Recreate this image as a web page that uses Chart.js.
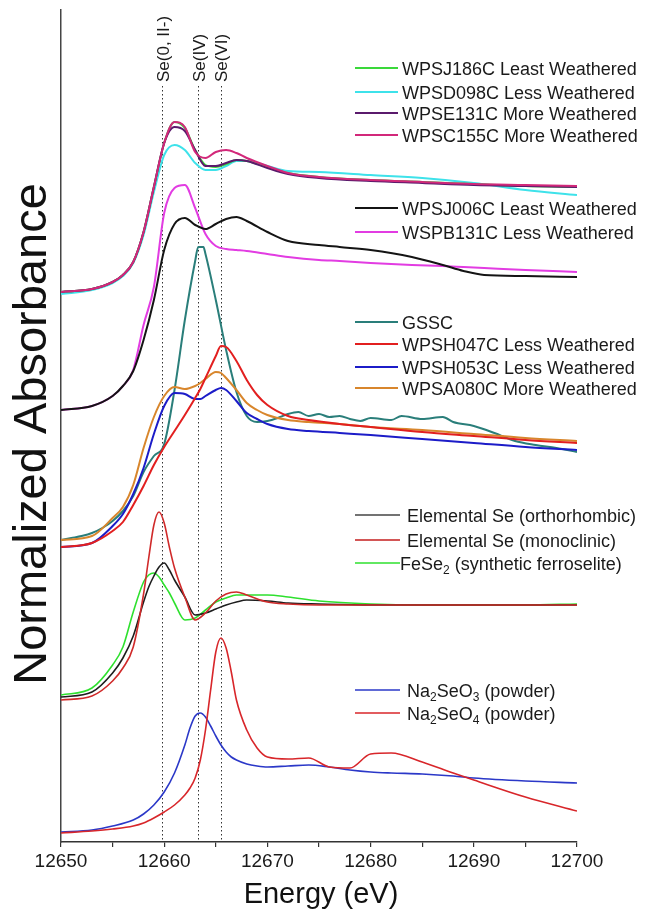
<!DOCTYPE html>
<html><head><meta charset="utf-8">
<script src="https://cdn.jsdelivr.net/npm/chart.js@4.4.1/dist/chart.umd.min.js"></script>
<style>html,body{margin:0;padding:0;background:#fff;}canvas{display:block;}</style>
</head><body>
<canvas id="c" width="670" height="915"></canvas>
<script>
// ---------- DATA (normalized absorbance, stacked with offsets, arbitrary units) ----------
const xTickValues = [12650, 12660, 12670, 12680, 12690, 12700];
const edgeEnergies = [12659.8, 12663.3, 12665.5];
const edgeLabels = ['Se(0, II-)', 'Se(IV)', 'Se(VI)'];

// group 1
const energyG1 = [12650,12653,12655,12656,12657,12658,12659,12660,12661,12662,12663,12664,12665,12666,12667,12668,12670,12672,12675,12680,12685,12690,12695,12700];
const a_WPSJ186C = [5.50,5.53,5.60,5.67,5.80,6.10,6.55,6.99,7.20,7.14,6.92,6.77,6.75,6.78,6.82,6.81,6.75,6.69,6.65,6.62,6.60,6.58,6.56,6.55];
const a_WPSD098C = [5.48,5.52,5.59,5.66,5.79,6.07,6.50,6.87,6.97,6.92,6.79,6.72,6.72,6.76,6.81,6.81,6.76,6.71,6.70,6.67,6.64,6.59,6.52,6.47];
const a_WPSE131C = [5.50,5.53,5.60,5.67,5.80,6.10,6.55,6.99,7.15,7.11,6.92,6.76,6.76,6.79,6.82,6.81,6.74,6.68,6.64,6.61,6.59,6.57,6.56,6.55];
const a_WPSC155C = [5.50,5.53,5.60,5.67,5.80,6.10,6.55,6.99,7.20,7.15,6.90,6.84,6.90,6.92,6.89,6.84,6.76,6.69,6.65,6.62,6.60,6.58,6.57,6.56];

// group 2
const energyG2 = [12650,12653,12655,12656,12657,12658,12659,12660,12661,12662,12663,12664,12665,12666,12667,12668,12670,12672,12675,12677,12680,12684,12687,12689,12691,12695,12700];
const a_WPSJ006C = [4.32,4.36,4.46,4.56,4.71,5.02,5.42,5.92,6.18,6.24,6.17,6.13,6.18,6.23,6.25,6.21,6.10,6.01,5.97,5.95,5.92,5.85,5.77,5.71,5.67,5.66,5.65];
const a_WSPB131C = [4.32,4.36,4.46,4.56,4.72,5.17,5.55,6.29,6.54,6.57,6.34,6.08,5.96,5.93,5.92,5.91,5.88,5.85,5.82,5.81,5.79,5.77,5.76,5.75,5.74,5.72,5.70];

// group 3
const energyG3 = [12650,12653,12655,12656,12657,12658,12659,12660,12661,12662,12663,12663.5,12664,12665,12665.5,12666,12667,12668,12669,12670,12672,12674,12677,12680,12685,12690,12695,12700];
const a_WPSH047C = [2.95,2.99,3.11,3.20,3.37,3.56,3.77,3.95,4.11,4.27,4.44,4.53,4.64,4.86,4.96,4.95,4.81,4.62,4.47,4.37,4.26,4.22,4.18,4.15,4.10,4.06,4.02,3.99];
const a_WPSH053C = [2.95,2.99,3.16,3.28,3.48,3.74,4.08,4.36,4.49,4.48,4.43,4.43,4.46,4.52,4.54,4.52,4.41,4.29,4.23,4.18,4.13,4.11,4.09,4.07,4.03,3.99,3.95,3.92];
const a_WPSA080C = [3.02,3.06,3.24,3.35,3.57,3.94,4.25,4.46,4.55,4.53,4.56,4.59,4.63,4.70,4.69,4.64,4.52,4.39,4.32,4.27,4.22,4.20,4.18,4.15,4.12,4.08,4.04,4.01];
const energyGSSC = [12650,12651,12652,12653,12654,12655,12656,12657,12658,12659,12660,12661,12662,12663,12663.3,12663.8,12664,12665,12666,12667,12668,12669,12670,12671,12672,12673,12674,12675,12676,12677,12678,12679,12680,12682,12683,12685,12687,12688,12690,12692,12694,12696,12698,12700];
const a_GSSC = [3.02,3.04,3.06,3.09,3.14,3.21,3.31,3.46,3.70,3.86,3.98,4.52,5.22,5.81,5.95,5.95,5.88,5.42,4.92,4.50,4.26,4.20,4.21,4.24,4.28,4.30,4.26,4.28,4.25,4.26,4.23,4.21,4.24,4.22,4.26,4.23,4.25,4.20,4.16,4.09,4.01,3.97,3.94,3.90];

// group 4
const energyG4 = [12650,12653,12655,12656,12657,12658,12658.5,12659,12659.5,12660,12660.5,12661,12662,12663,12664,12665,12666,12667,12668,12670,12672,12675,12680,12685,12690,12695,12700];
const a_SeOrtho = [1.45,1.50,1.69,1.84,2.06,2.40,2.55,2.66,2.75,2.79,2.72,2.62,2.45,2.27,2.29,2.33,2.37,2.40,2.42,2.41,2.39,2.38,2.37,2.37,2.37,2.37,2.37];
const a_SeMono  = [1.42,1.46,1.61,1.74,1.95,2.48,2.84,3.17,3.30,3.19,2.95,2.74,2.45,2.22,2.29,2.41,2.48,2.50,2.47,2.40,2.38,2.37,2.37,2.37,2.37,2.37,2.37];
const a_FeSe2   = [1.47,1.54,1.77,1.95,2.30,2.60,2.67,2.69,2.65,2.57,2.49,2.39,2.22,2.24,2.32,2.40,2.44,2.47,2.47,2.47,2.45,2.41,2.38,2.37,2.37,2.37,2.38];

// group 5
const energyG5 = [12650,12653,12655,12657,12658,12659,12660,12661,12662,12662.5,12663,12663.5,12664,12664.5,12665,12665.5,12666,12666.5,12667,12668,12669,12670,12672,12674,12676,12678,12680,12682,12685,12688,12690,12695,12700];
const a_Na2SeO3 = [0.10,0.12,0.16,0.22,0.28,0.37,0.50,0.69,0.97,1.14,1.26,1.29,1.25,1.16,1.06,0.97,0.90,0.85,0.82,0.78,0.76,0.75,0.76,0.77,0.75,0.72,0.70,0.69,0.68,0.66,0.64,0.61,0.59];
const a_Na2SeO4 = [0.09,0.11,0.13,0.16,0.19,0.24,0.30,0.37,0.47,0.54,0.64,0.82,1.12,1.52,1.90,2.04,1.94,1.70,1.42,1.12,0.94,0.85,0.83,0.84,0.75,0.74,0.88,0.89,0.80,0.69,0.62,0.45,0.31];

// ---------- styling ----------
const FONT = '"Liberation Sans", Arial, Helvetica, sans-serif';
const C = {
  WPSJ186C:'#3ad83a', WPSD098C:'#3ee2ea', WPSE131C:'#5a1a6c', WPSC155C:'#d2287a',
  WPSJ006C:'#141414', WSPB131C:'#e23ce2',
  GSSC:'#2a7e7a', WPSH047C:'#e21f1f', WPSH053C:'#1c1cc8', WPSA080C:'#d8862c',
  SeOrtho:'#1e1e1e', SeMono:'#d02a2a', FeSe2:'#2ee02e',
  Na2SeO3:'#2b38c8', Na2SeO4:'#d8262a'
};

function pts(E, A){ const n=Math.min(E.length,A.length); const o=[]; for(let i=0;i<n;i++) o.push({x:E[i],y:A[i]}); return o; }
function ds(label, E, A, color, w){
  return {label, data: pts(E,A), borderColor: color, backgroundColor: color, borderWidth: w,
    pointRadius: 0, fill: false, cubicInterpolationMode: 'monotone'};
}

const datasets = [
  ds('WPSC155C More Weathered', energyG1, a_WPSC155C, C.WPSC155C, 2),
  ds('WPSE131C More Weathered', energyG1, a_WPSE131C, C.WPSE131C, 2),
  ds('WPSJ186C Least Weathered', energyG1, a_WPSJ186C, C.WPSJ186C, 2),
  ds('WPSD098C Less Weathered', energyG1, a_WPSD098C, C.WPSD098C, 2),
  ds('WPSJ006C Least Weathered', energyG2, a_WPSJ006C, C.WPSJ006C, 2),
  ds('WSPB131C Less Weathered', energyG2, a_WSPB131C, C.WSPB131C, 2),
  ds('WPSH047C Less Weathered', energyG3, a_WPSH047C, C.WPSH047C, 2),
  ds('WPSA080C More Weathered', energyG3, a_WPSA080C, C.WPSA080C, 2),
  ds('WPSH053C Less Weathered', energyG3, a_WPSH053C, C.WPSH053C, 2),
  ds('GSSC', energyGSSC, a_GSSC, C.GSSC, 2),
  ds('Elemental Se (monoclinic)', energyG4, a_SeMono, C.SeMono, 1.6),
  ds('Elemental Se (orthorhombic)', energyG4, a_SeOrtho, C.SeOrtho, 1.6),
  ds('FeSe2 (synthetic ferroselite)', energyG4, a_FeSe2, C.FeSe2, 1.6),
  ds('Na2SeO4 (powder)', energyG5, a_Na2SeO4, C.Na2SeO4, 1.6),
  ds('Na2SeO3 (powder)', energyG5, a_Na2SeO3, C.Na2SeO3, 1.6)
];

// legend blocks: rows of [color, segments]; segment = [text, isSubscript]
const legendBlocks = [
  {y:[68,92,113,135], lineX:[355,398], textX:402, w:2, rows:[
    [C.WPSJ186C, [['WPSJ186C Least Weathered']]],
    [C.WPSD098C, [['WPSD098C Less Weathered']]],
    [C.WPSE131C, [['WPSE131C More Weathered']]],
    [C.WPSC155C, [['WPSC155C More Weathered']]]]},
  {y:[208,232], lineX:[355,398], textX:402, w:2, rows:[
    [C.WPSJ006C, [['WPSJ006C Least Weathered']]],
    [C.WSPB131C, [['WSPB131C Less Weathered']]]]},
  {y:[322,344,367,388], lineX:[355,398], textX:402, w:2, rows:[
    [C.GSSC, [['GSSC']]],
    [C.WPSH047C, [['WPSH047C Less Weathered']]],
    [C.WPSH053C, [['WPSH053C Less Weathered']]],
    [C.WPSA080C, [['WPSA080C More Weathered']]]]},
  {y:[515,540,563], lineX:[355,400], textX:407, w:1.5, rows:[
    ['#444444', [['Elemental Se (orthorhombic)']]],
    ['#c41e1e', [['Elemental Se (monoclinic)']]],
    [C.FeSe2, [['FeSe'],['2',true],[' (synthetic ferroselite)']], 400]]},
  {y:[690,713], lineX:[355,400], textX:407, w:1.5, rows:[
    [C.Na2SeO3, [['Na'],['2',true],['SeO'],['3',true],[' (powder)']]],
    [C.Na2SeO4, [['Na'],['2',true],['SeO'],['4',true],[' (powder)']]]]}
];

const overlay = {
  id: 'overlay',
  beforeDatasetsDraw(chart){
    const ctx = chart.ctx, xs = chart.scales.x, area = chart.chartArea;
    ctx.save();
    ctx.strokeStyle = '#333'; ctx.lineWidth = 1; ctx.setLineDash([1.5, 2.5]);
    edgeEnergies.forEach(e => {
      const px = Math.round(xs.getPixelForValue(e)) + 0.5;
      ctx.beginPath(); ctx.moveTo(px, 86); ctx.lineTo(px, area.bottom); ctx.stroke();
    });
    ctx.restore();
  },
  afterDraw(chart){
    const ctx = chart.ctx, xs = chart.scales.x, area = chart.chartArea;
    ctx.save();
    // edge labels
    ctx.fillStyle = '#1a1a1a';
    ctx.font = '17px ' + FONT;
    ctx.textAlign = 'left'; ctx.textBaseline = 'alphabetic';
    edgeEnergies.forEach((e, i) => {
      const px = xs.getPixelForValue(e);
      ctx.save(); ctx.translate(px + 6.5, 82); ctx.rotate(-Math.PI/2);
      ctx.fillText(edgeLabels[i], 0, 0); ctx.restore();
    });
    // legends
    legendBlocks.forEach(b => {
      b.rows.forEach((r, i) => {
        const y = b.y[i];
        ctx.strokeStyle = r[0]; ctx.lineWidth = b.w; ctx.setLineDash([]);
        ctx.beginPath(); ctx.moveTo(b.lineX[0], y); ctx.lineTo(b.lineX[1], y); ctx.stroke();
        let x = r[2] !== undefined ? r[2] : b.textX;
        ctx.fillStyle = '#1a1a1a'; ctx.textAlign = 'left'; ctx.textBaseline = 'middle';
        r[1].forEach(seg => {
          if (seg[1]) { ctx.font = '12px ' + FONT; ctx.fillText(seg[0], x, y + 8); }
          else { ctx.font = '18px ' + FONT; ctx.fillText(seg[0], x, y + 2); }
          x += ctx.measureText(seg[0]).width;
        });
      });
    });
    // axis titles
    ctx.fillStyle = '#111';
    ctx.font = '29px ' + FONT; ctx.textAlign = 'center'; ctx.textBaseline = 'alphabetic';
    ctx.fillText('Energy (eV)', (area.left + area.right)/2 + 2, 903);
    ctx.save(); ctx.translate(46, (area.top + area.bottom)/2 + 8); ctx.rotate(-Math.PI/2);
    ctx.font = '47px ' + FONT; ctx.textAlign = 'center';
    ctx.fillText('Normalized Absorbance', 0, 0); ctx.restore();
    ctx.restore();
  }
};

new Chart(document.getElementById('c'), {
  type: 'line',
  data: { datasets },
  options: {
    responsive: false, animation: false, devicePixelRatio: 1,
    layout: { padding: { top: 10, right: 93, left: 0, bottom: 0 } },
    plugins: { legend: { display: false }, tooltip: { enabled: false } },
    scales: {
      x: {
        type: 'linear', min: 12650, max: 12700,
        afterFit: s => { s.height = 73; },
        ticks: { stepSize: 5, autoSkip: false, maxRotation: 0, padding: 3, color: '#1a1a1a',
          font: { family: FONT, size: 19 },
          callback: v => xTickValues.includes(v) ? String(v) : '' },
        grid: { display: true, drawOnChartArea: false, drawTicks: true, tickLength: 5, color: '#333', lineWidth: 1.2 },
        border: { display: true, color: '#333', width: 1.5 }
      },
      y: {
        min: 0, max: 8.32,
        afterFit: s => { s.width = 61; },
        ticks: { display: false },
        grid: { display: false },
        border: { display: true, color: '#444', width: 1.5 }
      }
    }
  },
  plugins: [overlay]
});
</script></body></html>
